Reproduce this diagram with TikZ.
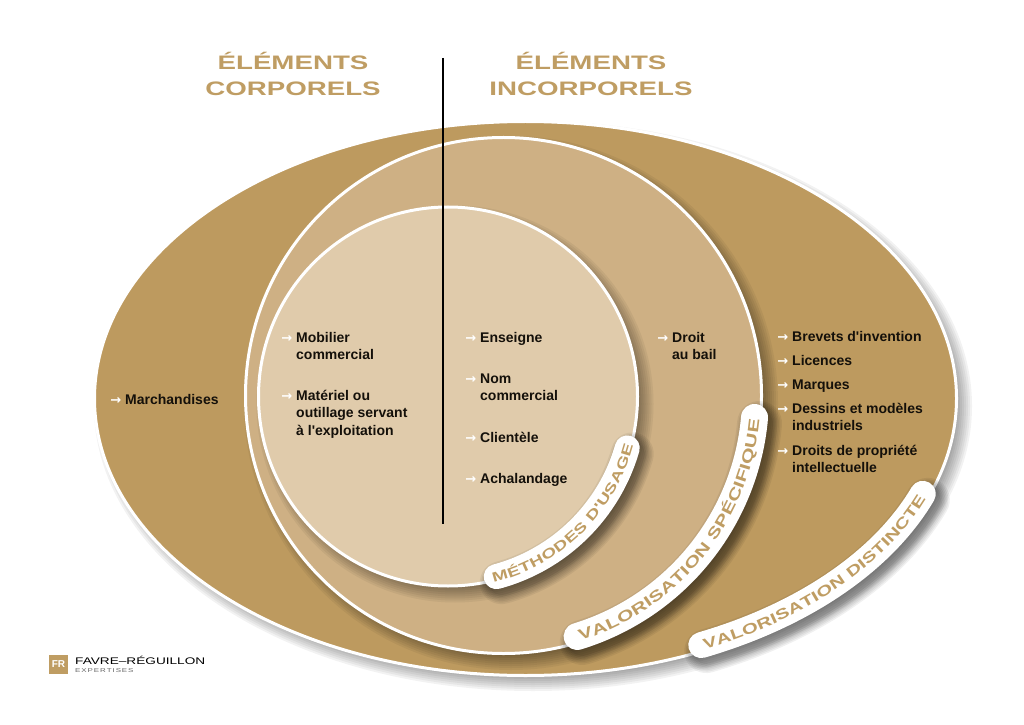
\documentclass[tikz,border=0pt]{standalone}
\usepackage{fontspec}
\setmainfont{Liberation Sans}
\newfontfamily\listfont{Liberation Sans}
\newfontfamily\widefont[FakeStretch=1.42]{Liberation Sans}
\newfontfamily\markfont{DejaVu Sans}
\usetikzlibrary{positioning,calc,decorations.text}

\definecolor{outergold}{HTML}{BD9A5F}
\definecolor{middlegold}{HTML}{CEB084}
\definecolor{innergold}{HTML}{E0CBAB}
\definecolor{titlegold}{HTML}{BF9D63}
\definecolor{inktext}{HTML}{14100A}

% soft shadow under a round shape
\newcommand{\softdisc}[3]{
  \foreach \k in {-9,-7,...,9} {
    \fill[black, opacity=0.05] #1 ellipse [x radius=#2+\k, y radius=#3+\k];
  }
}
% white band along an arc, with a soft shadow and its text
\newcommand{\band}[7]{
  \foreach \k in {0,3,...,18} {
    \draw[black, opacity=0.06, line cap=round, line width=#6pt+\k pt]
      ($#1+(5,-6)$) ++(#2:#4 and #5) arc [start angle=#2, end angle=#3, x radius=#4, y radius=#5];
  }
  \draw[white, line cap=round, line width=#6 pt]
    #1 ++(#2:#4 and #5) arc [start angle=#2, end angle=#3, x radius=#4, y radius=#5];
  \path[decorate, decoration={text along path, text color=titlegold, text align=center, raise=-5pt, text={#7}}]
    #1 ++(#2:#4 and #5) arc [start angle=#2, end angle=#3, x radius=#4, y radius=#5];
}
% one listed entry with its small arrow
\newcommand{\entry}[4]{
  \node[itemmark] (#1mark) at (#2-3.5,#3) {→};
  \node[itemtext] (#1) at (#2,#3+12.25) {\strut #4};
}

\begin{document}
\begin{tikzpicture}
    [ x=1pt, y=1pt
    , itemtext/.style={anchor=north west, inner sep=0pt, align=left, text=inktext, font=\fontsize{14}{17.5}\listfont\bfseries}
    , itemmark/.style={anchor=base east, inner sep=0pt, text=white, font=\fontsize{13}{13}\markfont\bfseries}
    , heading/.style={inner sep=0pt, text=titlegold, font=\fontsize{19.5}{26}\widefont\bfseries, align=center}
    ]
  \useasboundingbox (0,0) rectangle (1024,724);

  % the three rounds
  \softdisc{(533,318)}{430}{276}
  \fill[outergold, draw=white, line width=3pt] (525.5,325.5) ellipse [x radius=431, y radius=277];
  \softdisc{(511,321)}{258}{258}
  \fill[middlegold, draw=white, line width=3pt] (503.5,328.5) circle [radius=258];
  \softdisc{(455,320)}{189.5}{189.5}
  \fill[innergold, draw=white, line width=3pt] (448,327.5) circle [radius=189.5];

  % bands
  \band{(448,327.5)}{-75}{-16}{186.5}{186.5}{25}{|\fontsize{13.5}{13.5}\widefont\bfseries|MÉTHODES D'USAGE}
  \band{(503.5,328.5)}{-73}{-5}{252}{252}{27}{|\fontsize{15}{15}\widefont\bfseries|VALORISATION SPÉCIFIQUE}
  \band{(525,325.5)}{-65.5}{-20.6}{425}{271}{26}{|\fontsize{14.5}{14.5}\widefont\bfseries|VALORISATION DISTINCTE}

  % axis
  \coordinate (axistop) at (443,666);
  \coordinate (axisbottom) at (443,200);
  \draw[black, line width=2.4pt] (axistop) -- (axisbottom);

  % headings
  \node[heading] (corpo1) at (293,663) {ÉLÉMENTS};
  \node[heading] (corpo2) at (293,635.5) {CORPORELS};
  \node[heading] (incorpo1) at (591,663) {ÉLÉMENTS};
  \node[heading] (incorpo2) at (591,635.5) {INCORPORELS};

  % items
  \entry{march}{125}{320}{Marchandises}
  \entry{mobil}{296}{382}{Mobilier\\commercial}
  \entry{mater}{296}{324}{Matériel ou\\outillage servant\\à l'exploitation}
  \entry{enseig}{480}{382}{Enseigne}
  \entry{nomcom}{480}{341}{Nom\\commercial}
  \entry{client}{480}{282}{Clientèle}
  \entry{achal}{480}{241}{Achalandage}
  \entry{droit}{672}{382}{Droit\\au bail}
  \entry{brevet}{792}{383}{Brevets d'invention}
  \entry{licen}{792}{359}{Licences}
  \entry{marq}{792}{335}{Marques}
  \entry{dessin}{792}{311}{Dessins et modèles\\industriels}
  \entry{propr}{792}{269}{Droits de propriété\\intellectuelle}

  % logo
  \node[fill=titlegold, minimum size=19pt, inner sep=0pt, text=white, font=\fontsize{10}{10}\bfseries] (logobox) at (58.5,59.5) {FR};
  \node[anchor=base west, inner sep=0pt, font=\fontsize{9.6}{10}\widefont, text=black] (logoname) at (75,59.5) {FAVRE–RÉGUILLON};
  \node[anchor=base west, inner sep=0pt, font=\fontsize{5.6}{6}\widefont, text=black!60] (logosub) at (75,52) {E\,X\,P\,E\,R\,T\,I\,S\,E\,S};
\end{tikzpicture}
\end{document}
